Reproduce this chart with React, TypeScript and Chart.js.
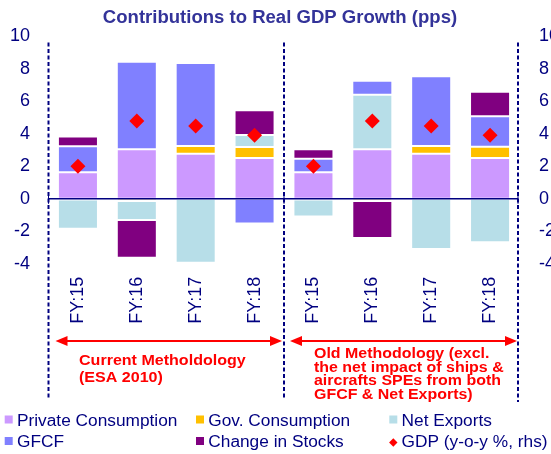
import React, { useEffect, useRef } from 'react';
import { Chart, registerables } from 'chart.js';

Chart.register(...registerables);

// ---- data ----
const categories = ['FY:15', 'FY:16', 'FY:17', 'FY:18', 'FY:15', 'FY:16', 'FY:17', 'FY:18'];
const privateConsumption = [1.64, 3.05, 2.77, 2.52, 1.64, 3.05, 2.77, 2.52];
const govConsumption = [-0.05, -0.14, 0.49, 0.67, -0.05, -0.14, 0.49, 0.68];
const netExports = [-1.8, -1.17, -3.94, 0.74, -1.04, 3.36, -3.1, -2.68];
const gfcf = [1.6, 5.4, 5.11, -1.52, 0.82, 0.86, 4.29, 1.89];
const changeInStocks = [0.6, -2.32, 0.08, 1.52, 0.6, -2.28, 0.08, 1.5];
const gdpGrowth = [2.0, 4.8, 4.49, 3.92, 2.0, 4.8, 4.49, 3.92];

const yMin = -4;
const yMax = 10;
const yStep = 2;

const seriesNames = [
  'Private Consumption',
  'Gov. Consumption',
  'Net Exports',
  'GFCF',
  'Change in Stocks',
  'GDP (y-o-y %, rhs)',
];
const seriesColors = ['#CC99FF', '#FFC000', '#B7DEE8', '#8080FF', '#800080', '#FF0000'];

const titleText = 'Contributions to Real GDP Growth (pps)';
const currentNote = ['Current Metholdology', '(ESA 2010)'];
const oldNote = [
  'Old Methodology (excl.',
  'the net impact of ships &',
  'aircrafts SPEs from both',
  'GFCF & Net Exports)',
];

const FONT = "'Liberation Sans', Arial, Helvetica, sans-serif";
const NAVY = '#000080';
const W = 580;
const H = 454;

function arrow(ctx: CanvasRenderingContext2D, x1: number, x2: number, y: number) {
  const hl = 12;
  const hw = 5;
  ctx.save();
  ctx.strokeStyle = '#FF0000';
  ctx.fillStyle = '#FF0000';
  ctx.lineWidth = 2;
  ctx.beginPath();
  ctx.moveTo(x1 + hl - 1, y);
  ctx.lineTo(x2 - hl + 1, y);
  ctx.stroke();
  ctx.beginPath();
  ctx.moveTo(x1, y);
  ctx.lineTo(x1 + hl, y - hw);
  ctx.lineTo(x1 + hl, y + hw);
  ctx.closePath();
  ctx.fill();
  ctx.beginPath();
  ctx.moveTo(x2, y);
  ctx.lineTo(x2 - hl, y - hw);
  ctx.lineTo(x2 - hl, y + hw);
  ctx.closePath();
  ctx.fill();
  ctx.restore();
}

function stretchedText(ctx: CanvasRenderingContext2D, t: string, x: number, y: number, sx: number) {
  ctx.save();
  ctx.translate(x, y);
  ctx.scale(sx, 1);
  ctx.fillText(t, 0, 0);
  ctx.restore();
}

const decorPlugin = {
  id: 'decor',
  afterDraw(chart: any) {
    const ctx: CanvasRenderingContext2D = chart.ctx;
    const area = chart.chartArea;
    const xs = chart.scales.x;
    const ys = chart.scales.y;
    const left = area.left;
    const right = area.right;
    const mid = (xs.getPixelForValue(3) + xs.getPixelForValue(4)) / 2;
    const zeroY = ys.getPixelForValue(0);

    ctx.save();
    // title
    ctx.fillStyle = '#333399';
    ctx.font = `bold 18px ${FONT}`;
    ctx.textAlign = 'center';
    ctx.textBaseline = 'alphabetic';
    stretchedText(ctx, titleText, 280, 22.5, 1.03);

    // dashed dividers
    ctx.strokeStyle = NAVY;
    ctx.lineWidth = 2;
    ctx.setLineDash([4, 2.5]);
    [left, mid, right - 1.5].forEach((x, i) => {
      ctx.beginPath();
      ctx.moveTo(x, 42.5);
      ctx.lineTo(x, i === 2 ? 402 : 398);
      ctx.stroke();
    });
    ctx.setLineDash([]);

    // zero line with small ticks
    ctx.lineWidth = 1.5;
    ctx.beginPath();
    ctx.moveTo(left, zeroY);
    ctx.lineTo(right - 1.5, zeroY);
    ctx.stroke();
    ctx.lineWidth = 1;
    [left, mid, right - 1.5].forEach((x) => {
      ctx.beginPath();
      ctx.moveTo(x, zeroY - 5);
      ctx.lineTo(x, zeroY + 5);
      ctx.stroke();
    });

    // arrows
    arrow(ctx, left + 7, mid - 2, 341);
    arrow(ctx, mid + 6, right - 2.5, 341);

    // notes
    ctx.fillStyle = '#FF0000';
    ctx.textAlign = 'left';
    ctx.font = `bold 15px ${FONT}`;
    currentNote.forEach((t, i) => stretchedText(ctx, t, 79, 365 + i * 17, 1.07));
    ctx.font = `bold 14.5px ${FONT}`;
    oldNote.forEach((t, i) => stretchedText(ctx, t, 314, 358.3 + i * 13.4, 1.1));

    // legend
    const colX = [4.7, 196, 389.3];
    const rowY = [419.5, 441];
    ctx.font = `16px ${FONT}`;
    chart.data.datasets.forEach((ds: any, i: number) => {
      const cx = colX[i % 3];
      const cy = rowY[Math.floor(i / 3)];
      ctx.fillStyle = ds.backgroundColor;
      if (ds.type === 'line') {
        const c = cx + 4;
        const r = 4.2;
        ctx.beginPath();
        ctx.moveTo(c, cy + 1.5 - r);
        ctx.lineTo(c + r, cy + 1.5);
        ctx.lineTo(c, cy + 1.5 + r);
        ctx.lineTo(c - r, cy + 1.5);
        ctx.closePath();
        ctx.fill();
      } else {
        ctx.fillRect(cx, cy - 4, 8, 8);
      }
      ctx.fillStyle = NAVY;
      stretchedText(ctx, ds.label, cx + 12.3, cy + 6, 1.08);
    });
    ctx.restore();
  },
};

export default function App() {
  const ref = useRef<HTMLCanvasElement | null>(null);

  useEffect(() => {
    if (!ref.current) return;
    const barSeries = [privateConsumption, govConsumption, netExports, gfcf, changeInStocks];
    const datasets: any[] = barSeries.map((data, i) => ({
      type: 'bar',
      label: seriesNames[i],
      data,
      backgroundColor: seriesColors[i],
      borderColor: 'rgba(255,255,255,0.3)',
      borderWidth: 1,
      borderSkipped: false,
      yAxisID: 'y',
      order: 1,
      barPercentage: 0.68,
      categoryPercentage: 1,
    }));
    datasets.push({
      type: 'line',
      label: seriesNames[5],
      data: gdpGrowth,
      backgroundColor: seriesColors[5],
      borderColor: seriesColors[5],
      showLine: false,
      pointStyle: 'rectRot',
      pointRadius: 7.5,
      pointBorderWidth: 0,
      yAxisID: 'y2',
      order: 0,
    });

    const tickFont = { family: FONT, size: 18 };
    const chart = new Chart(ref.current, {
      type: 'bar',
      data: { labels: categories, datasets },
      plugins: [decorPlugin],
      options: {
        responsive: false,
        animation: false,
        devicePixelRatio: 1,
        layout: { padding: { top: 36.5, bottom: 0, left: 0, right: 0 } },
        plugins: {
          legend: { display: false },
          title: { display: false },
          tooltip: { enabled: false },
        },
        scales: {
          x: {
            stacked: true,
            grid: { display: false, drawTicks: false },
            border: { display: false },
            ticks: {
              color: NAVY,
              font: tickFont,
              minRotation: 90,
              maxRotation: 90,
              autoSkip: false,
              padding: 13,
            },
            afterFit: (s: any) => {
              s.height = H - 263.7;
            },
          },
          y: {
            stacked: true,
            position: 'left',
            min: yMin,
            max: yMax,
            grid: { display: false, drawTicks: false },
            border: { display: false },
            ticks: { stepSize: yStep, color: NAVY, font: tickFont, padding: 18.5 },
            afterFit: (s: any) => {
              s.width = 48.5;
            },
          },
          y2: {
            position: 'right',
            min: yMin,
            max: yMax,
            grid: { display: false, drawTicks: false },
            border: { display: false },
            ticks: { stepSize: yStep, color: NAVY, font: tickFont, padding: 19.5 },
            afterFit: (s: any) => {
              s.width = W - 519.5;
            },
          },
        },
      } as any,
    });
    return () => chart.destroy();
  }, []);

  return (
    <div style={{ position: 'fixed', left: 0, top: 0, width: W, height: H, background: '#fff' }}>
      <canvas ref={ref} width={W} height={H} style={{ width: W, height: H, display: 'block' }} />
    </div>
  );
}
